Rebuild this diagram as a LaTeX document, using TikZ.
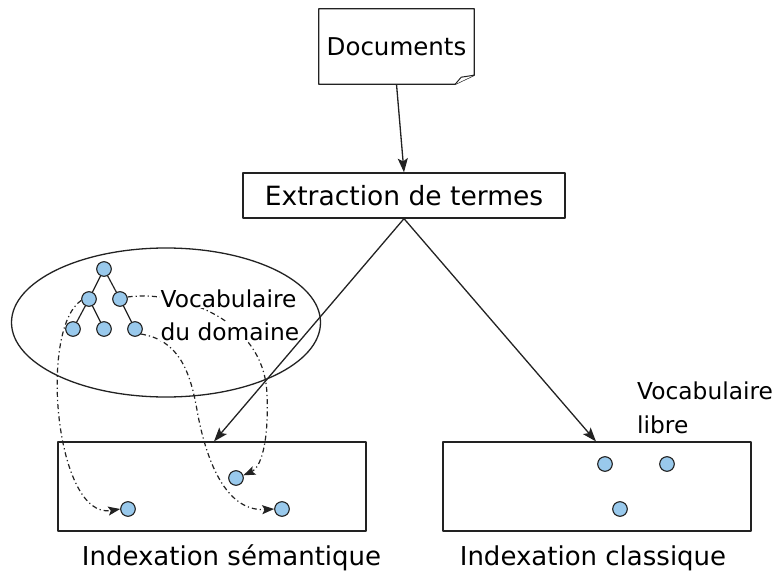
\documentclass[tikz,border=0pt]{standalone}
\usepackage{fontspec}
\setmainfont{DejaVu Sans}
\usetikzlibrary{arrows.meta,calc,shapes.geometric}
\definecolor{dotblue}{RGB}{153,201,236}
\definecolor{ink}{RGB}{34,34,34}
\newcommand{\fsz}[1]{\fontsize{#1}{1.2\dimexpr#1pt\relax}\selectfont}

\begin{document}
\begin{tikzpicture}[x=1pt,y=-1pt,
  line join=round,
  box/.style={draw=ink, line width=1.3pt, inner sep=0pt},
  flow/.style={draw=ink, line width=1.3pt, -{Stealth[length=14pt,width=10pt,inset=3pt]}},
  link/.style={draw=ink, line width=1.2pt, dash pattern=on 5pt off 3pt on 1.2pt off 3pt,
               -{Stealth[length=12pt,width=9pt,inset=2.5pt]}},
  term/.style={circle, draw=ink, line width=1.1pt, fill=dotblue, inner sep=0pt, minimum size=14.6pt},
  branch/.style={draw=ink, line width=1.2pt},
  lbl/.style={inner sep=0pt, text=black},
  cover/.style={lbl, fill=white, inner sep=0.5pt},
]
\useasboundingbox (0,0) rectangle (779,572);

% source document with a folded corner
\node[lbl, minimum width=155pt, minimum height=75pt, font=\fsz{24.5}] (docs) at (396.5,46.5) {Documents};
\draw[box] (docs.north west) -- (docs.north east) -- ([yshift=9pt]docs.south east)
  -- ([xshift=-19pt]docs.south east) -- (docs.south west) -- cycle;
\draw[box, line width=1pt, fill=white] ([xshift=-19pt]docs.south east)
  -- ([xshift=-13pt,yshift=7pt]docs.south east) -- ([yshift=9pt]docs.south east);

% term extraction step
\node[box, minimum width=322pt, minimum height=45pt, font=\fsz{26.5}] (extr) at (404,195.5) {Extraction de termes};

% the two indexing results
\node[box, line width=1.1pt, minimum width=308pt, minimum height=89pt] (sem) at (212,486.5) {};
\node[box, line width=1.1pt, minimum width=308pt, minimum height=89pt] (cla) at (597,486.5) {};
\node[lbl, anchor=base, font=\fsz{26}] (semlbl) at (231.5,565) {Indexation sémantique};
\node[lbl, anchor=base, font=\fsz{26}] (clalbl) at (593,565) {Indexation classique};

% domain vocabulary tree
\node[term] (n1)  at (104,269) {};
\node[term] (n21) at (89,299) {};
\node[term] (n22) at (120,299) {};
\node[term] (n31) at (73,329) {};
\node[term] (n32) at (104,329) {};
\node[term] (n33) at (135,329) {};
\draw[branch] (n1) -- (n21);
\draw[branch] (n1) -- (n22);
\draw[branch] (n21) -- (n31);
\draw[branch] (n21) -- (n32);
\draw[branch] (n22) -- (n33);

% indexing terms
\node[term] (d1) at (128,509) {};
\node[term] (d2) at (236,478) {};
\node[term] (d3) at (282,509) {};
\node[term] (r1) at (605,464) {};
\node[term] (r2) at (667,464) {};
\node[term] (r3) at (620,509) {};

% concepts carried over into the semantic index
\draw[link] (n21.190) .. controls (38,330) and (56,520) .. (d1.west);
\draw[link] (n22.15) .. controls (180,290) and (265,320) .. (267,395)
  .. controls (269,445) and (260,468) .. (d2.20);
\draw[link] (n33.-40) .. controls (178,340) and (190,370) .. (197,410)
  .. controls (204,450) and (222,512) .. (d3.west);

% vocabulary labels
\node[cover, anchor=base west, font=\fsz{23.3}] (vd1) at (160,307) {Vocabulaire};
\node[cover, anchor=base west, font=\fsz{23.3}] (vd2) at (160,340) {du domaine};
\node[lbl, anchor=base west, font=\fsz{23.3}] (vl1) at (637,399) {Vocabulaire};
\node[lbl, anchor=base west, font=\fsz{23.3}] (vl2) at (637,433) {libre};

% domain ontology
\node[draw=ink, line width=1.3pt, ellipse, inner sep=0pt, minimum width=309pt, minimum height=149pt] (dom) at (166,322.5) {};

% main flow
\draw[flow] (docs.south) -- (extr.north);
\draw[flow] (extr.south) -- ([xshift=2pt]sem.north);
\draw[flow] (extr.south) -- ([xshift=-1pt]cla.north);
\end{tikzpicture}
\end{document}
